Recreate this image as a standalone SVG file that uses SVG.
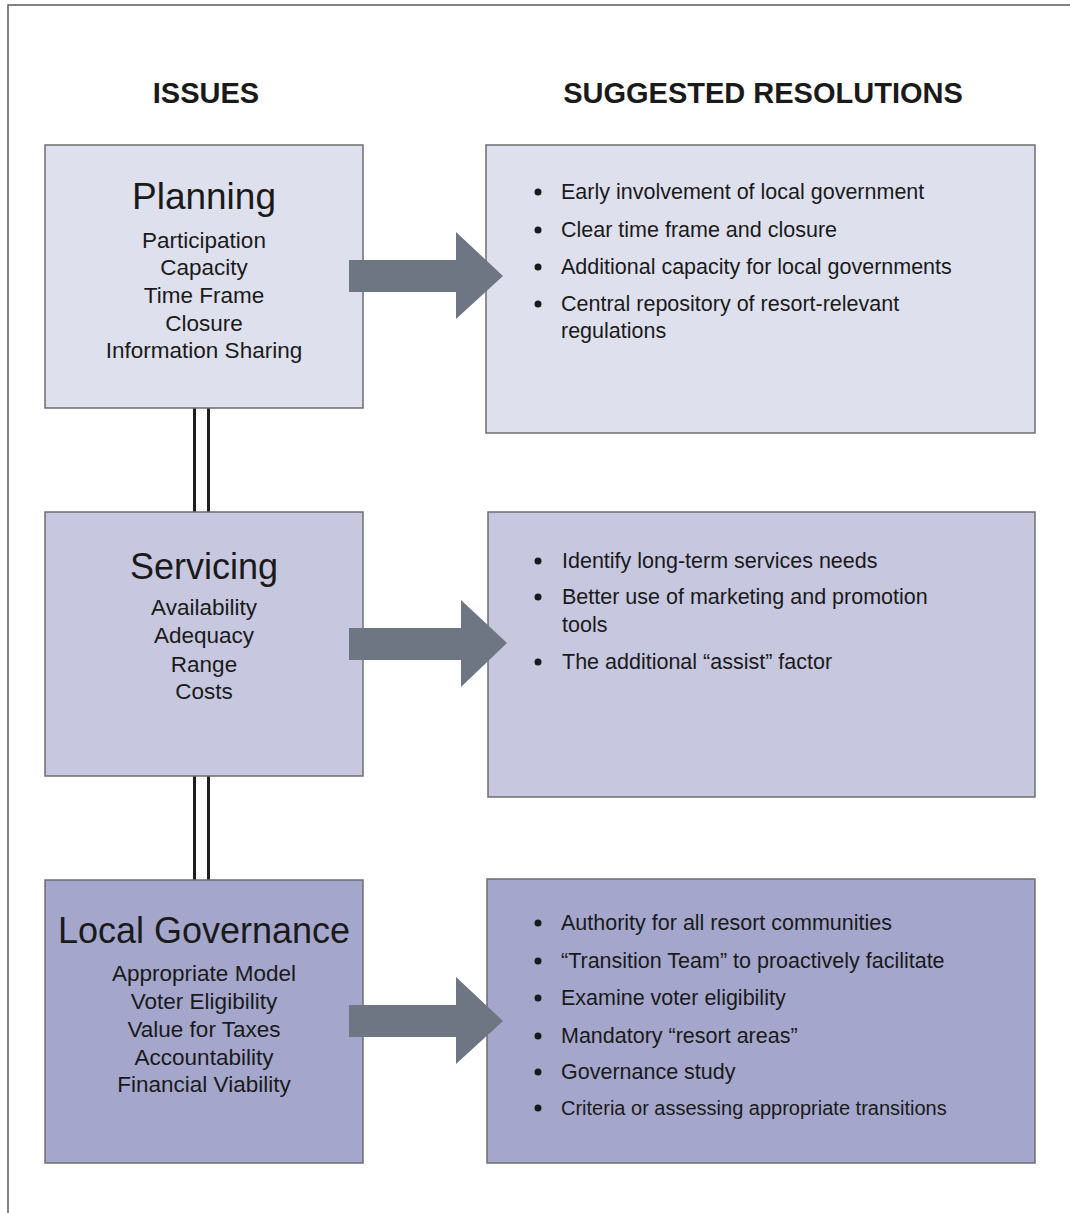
<svg xmlns="http://www.w3.org/2000/svg" width="1070" height="1213" viewBox="0 0 1070 1213">
<style>
  text { font-family: "Liberation Sans", Arial, sans-serif; fill: #1a1a1a; }
  .hdr { font-size: 29px; font-weight: bold; text-anchor: middle; }
  .ttl { font-size: 36px; text-anchor: middle; }
  .itm { font-size: 22.5px; text-anchor: middle; }
  .bul { font-size: 21.5px; }
  .box { stroke: #6e6e6e; stroke-width: 1.5; }
  .p { fill: #dfe0ee; }
  .s { fill: #c7c7e0; }
  .g { fill: #a4a6cc; }
  .dot { fill: #1a1a1a; }
  .arrow { fill: #6f7683; }
  .link { stroke: #1e1e1e; stroke-width: 3; fill: none; }
</style>
<rect x="0" y="0" width="1070" height="1213" fill="#ffffff"/>
<path d="M8,1213 V5 H1070" fill="none" stroke="#5a5a5a" stroke-width="1.5"/>
<text class="hdr" x="206" y="103">ISSUES</text>
<text class="hdr" x="763" y="103">SUGGESTED RESOLUTIONS</text>

<g id="connectors">
  <line class="link" x1="194.5" y1="408" x2="194.5" y2="512"/>
  <line class="link" x1="208.5" y1="408" x2="208.5" y2="512"/>
  <line class="link" x1="194.5" y1="776" x2="194.5" y2="880"/>
  <line class="link" x1="208.5" y1="776" x2="208.5" y2="880"/>
</g>

<g id="planning">
  <rect class="box p" x="45" y="145" width="318" height="263"/>
  <text class="ttl" x="204" y="209" style="font-size:37px">Planning</text>
  <text class="itm" x="204" y="248">Participation</text>
  <text class="itm" x="204" y="275">Capacity</text>
  <text class="itm" x="204" y="303">Time Frame</text>
  <text class="itm" x="204" y="331">Closure</text>
  <text class="itm" x="204" y="358">Information Sharing</text>
</g>

<g id="planning-resolutions">
  <rect class="box p" x="486" y="145" width="549" height="288"/>
  <circle class="dot" cx="538" cy="192" r="3.5"/>
  <text class="bul" x="561" y="199">Early involvement of local government</text>
  <circle class="dot" cx="538" cy="230" r="3.5"/>
  <text class="bul" x="561" y="237">Clear time frame and closure</text>
  <circle class="dot" cx="538" cy="267" r="3.5"/>
  <text class="bul" x="561" y="274">Additional capacity for local governments</text>
  <circle class="dot" cx="538" cy="304" r="3.5"/>
  <text class="bul" x="561" y="311">Central repository of resort-relevant</text>
  <text class="bul" x="561" y="338">regulations</text>
</g>

<g id="servicing">
  <rect class="box s" x="45" y="512" width="318" height="264"/>
  <text class="ttl" x="204" y="579">Servicing</text>
  <text class="itm" x="204" y="615">Availability</text>
  <text class="itm" x="204" y="643">Adequacy</text>
  <text class="itm" x="204" y="672">Range</text>
  <text class="itm" x="204" y="699">Costs</text>
</g>

<g id="servicing-resolutions">
  <rect class="box s" x="488" y="512" width="547" height="285"/>
  <circle class="dot" cx="538" cy="561" r="3.5"/>
  <text class="bul" x="562" y="568">Identify long-term services needs</text>
  <circle class="dot" cx="538" cy="597" r="3.5"/>
  <text class="bul" x="562" y="604">Better use of marketing and promotion</text>
  <text class="bul" x="562" y="632">tools</text>
  <circle class="dot" cx="538" cy="662" r="3.5"/>
  <text class="bul" x="562" y="669">The additional “assist” factor</text>
</g>

<g id="local-governance">
  <rect class="box g" x="45" y="880" width="318" height="283"/>
  <text class="ttl" x="204" y="943">Local Governance</text>
  <text class="itm" x="204" y="981">Appropriate Model</text>
  <text class="itm" x="204" y="1009">Voter Eligibility</text>
  <text class="itm" x="204" y="1037">Value for Taxes</text>
  <text class="itm" x="204" y="1065">Accountability</text>
  <text class="itm" x="204" y="1092">Financial Viability</text>
</g>

<g id="local-governance-resolutions">
  <rect class="box g" x="487" y="879" width="548" height="284"/>
  <circle class="dot" cx="538" cy="923" r="3.5"/>
  <text class="bul" x="561" y="930">Authority for all resort communities</text>
  <circle class="dot" cx="538" cy="961" r="3.5"/>
  <text class="bul" x="561" y="968">“Transition Team” to proactively facilitate</text>
  <circle class="dot" cx="538" cy="998" r="3.5"/>
  <text class="bul" x="561" y="1005">Examine voter eligibility</text>
  <circle class="dot" cx="538" cy="1036" r="3.5"/>
  <text class="bul" x="561" y="1043">Mandatory “resort areas”</text>
  <circle class="dot" cx="538" cy="1072" r="3.5"/>
  <text class="bul" x="561" y="1079">Governance study</text>
  <circle class="dot" cx="538" cy="1108" r="3.5"/>
  <text class="bul" x="561" y="1115" style="font-size:20px">Criteria or assessing appropriate transitions</text>
</g>

<g id="arrows">
  <polygon class="arrow" points="349,260 456,260 456,232 503,276 456,319 456,292 349,292"/>
  <polygon class="arrow" points="349,628 461,628 461,600 507,643 461,687 461,660 349,660"/>
  <polygon class="arrow" points="349,1005 456,1005 456,977 503,1021 456,1064 456,1037 349,1037"/>
</g>
</svg>
